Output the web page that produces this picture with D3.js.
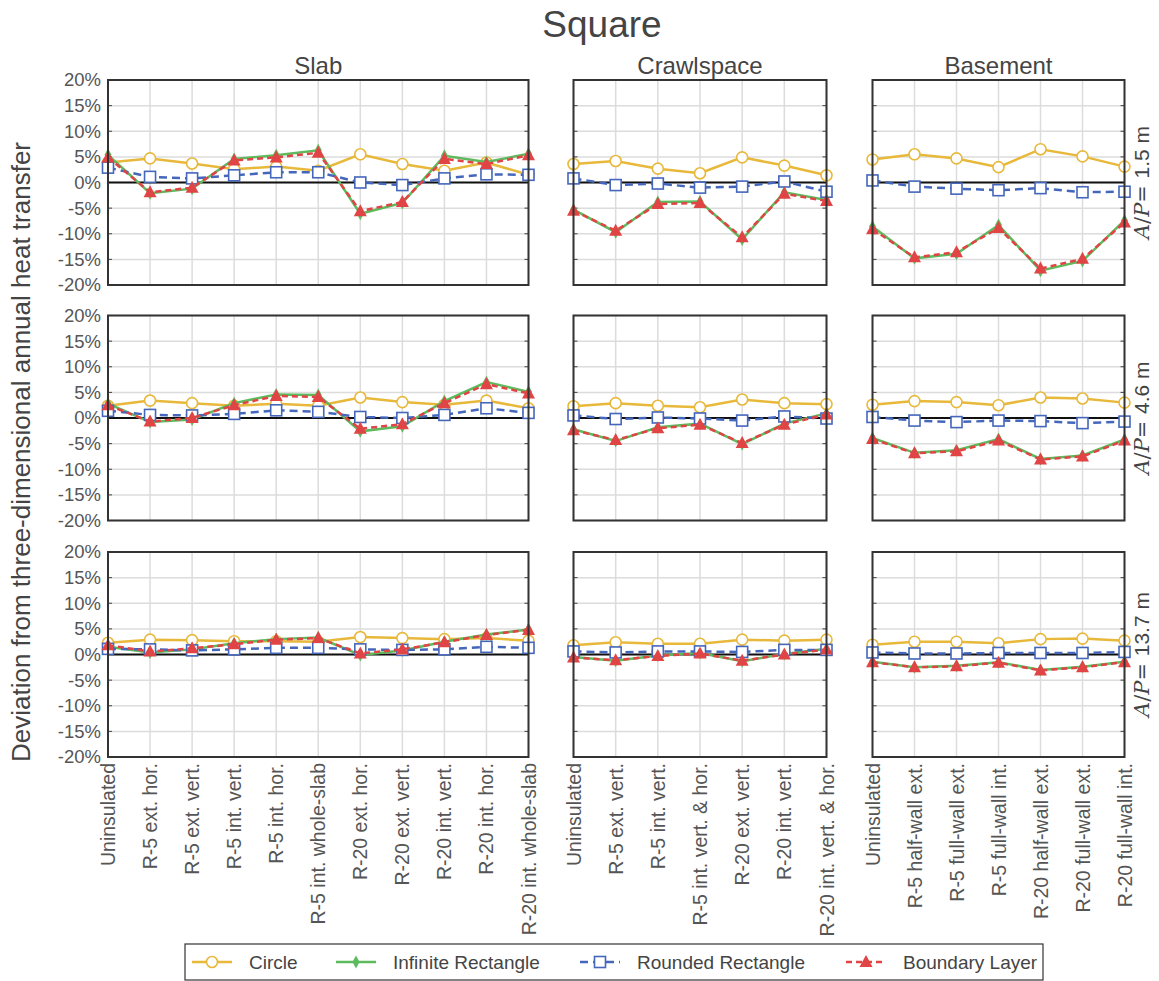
<!DOCTYPE html>
<html><head><meta charset="utf-8">
<script src="https://cdn.jsdelivr.net/npm/d3@7"></script>
<style>body{margin:0;background:#fff;} text{font-family:"Liberation Sans",Arial,sans-serif;}</style>
</head><body><svg id="c" width="1159" height="981"></svg>
<script>
const slabCats = ["Uninsulated","R-5 ext. hor.","R-5 ext. vert.","R-5 int. vert.","R-5 int. hor.","R-5 int. whole-slab","R-20 ext. hor.","R-20 ext. vert.","R-20 int. vert.","R-20 int. hor.","R-20 int. whole-slab"];
const crawlCats = ["Uninsulated","R-5 ext. vert.","R-5 int. vert.","R-5 int. vert. & hor.","R-20 ext. vert.","R-20 int. vert.","R-20 int. vert. & hor."];
const baseCats = ["Uninsulated","R-5 half-wall ext.","R-5 full-wall ext.","R-5 full-wall int.","R-20 half-wall ext.","R-20 full-wall ext.","R-20 full-wall int."];
const foundations = ["Slab","Crawlspace","Basement"];
const apLabels = ["1.5 m","4.6 m","13.7 m"];
const seriesNames = ["Circle","Infinite Rectangle","Rounded Rectangle","Boundary Layer"];
const yTicks = [-20,-15,-10,-5,0,5,10,15,20];

// Slab, rows = A/P 1.5, 4.6, 13.7
const slabCircle = [
  [3.9,4.7,3.7,2.6,3.1,2.3,5.5,3.6,2.3,3.9,1.5],
  [2.4,3.4,2.9,2.4,2.8,2.4,4.0,3.1,2.6,3.4,1.9],
  [2.3,2.9,2.8,2.6,2.6,2.5,3.4,3.2,3.0,3.2,2.7]];
const slabInfinite = [
  [5.4,-2.1,-1.2,4.6,5.3,6.3,-6.1,-4.0,5.2,4.0,5.6],
  [2.8,-0.8,-0.3,2.9,4.6,4.5,-2.6,-1.6,3.3,7.0,5.1],
  [1.5,0.4,1.0,2.2,3.0,3.3,-0.1,0.8,2.5,3.9,4.9]];
const slabRounded = [
  [2.9,1.1,0.8,1.4,2.0,2.0,0.0,-0.5,0.8,1.6,1.5],
  [1.4,0.6,0.5,0.8,1.5,1.2,0.2,0.0,0.6,1.9,1.0],
  [1.1,1.0,0.8,1.0,1.3,1.3,1.0,0.9,1.0,1.5,1.3]];
const slabBoundary = [
  [4.9,-1.9,-1.0,4.3,4.9,5.8,-5.6,-3.8,4.6,3.6,5.3],
  [2.5,-0.7,0.0,2.5,4.3,4.1,-2.1,-1.2,2.9,6.6,4.8],
  [1.8,0.6,1.2,2.0,2.9,3.2,0.2,1.0,2.4,3.8,4.8]];

const crawlCircle = [
  [3.6,4.2,2.7,1.8,4.9,3.3,1.4],
  [2.3,2.9,2.4,2.1,3.6,2.9,2.7],
  [1.8,2.4,2.1,2.1,2.9,2.7,2.9]];
const crawlInfinite = [
  [-5.3,-9.7,-3.8,-3.7,-11.1,-1.9,-3.4],
  [-2.2,-4.5,-1.8,-1.1,-5.1,-1.1,0.9],
  [-0.5,-1.2,-0.2,0.3,-1.3,0.1,1.1]];
const crawlRounded = [
  [0.8,-0.5,-0.2,-1.0,-0.8,0.2,-1.8],
  [0.5,-0.2,0.1,-0.1,-0.5,0.3,-0.1],
  [0.6,0.4,0.6,0.6,0.5,0.9,0.9]];
const crawlBoundary = [
  [-5.5,-9.4,-4.2,-4.0,-10.7,-2.2,-3.6],
  [-2.4,-4.3,-2.0,-1.3,-4.9,-1.3,0.7],
  [-0.6,-1.1,-0.3,0.2,-1.2,0.0,1.0]];

const baseCircle = [
  [4.5,5.5,4.7,3.0,6.5,5.1,3.1],
  [2.6,3.3,3.1,2.5,4.0,3.8,3.0],
  [1.9,2.5,2.5,2.2,3.0,3.1,2.7]];
const baseInfinite = [
  [-8.6,-14.8,-13.9,-8.3,-17.2,-15.3,-7.4],
  [-3.9,-6.8,-6.3,-4.1,-8.0,-7.3,-4.2],
  [-1.4,-2.5,-2.2,-1.5,-3.0,-2.4,-1.4]];
const baseRounded = [
  [0.4,-0.8,-1.2,-1.5,-1.1,-1.9,-1.8],
  [0.2,-0.5,-0.8,-0.5,-0.6,-1.0,-0.7],
  [0.4,0.2,0.2,0.3,0.3,0.3,0.5]];
const baseBoundary = [
  [-9.1,-14.6,-13.6,-8.9,-16.8,-14.9,-7.8],
  [-4.1,-6.9,-6.5,-4.4,-8.1,-7.5,-4.4],
  [-1.5,-2.5,-2.3,-1.6,-3.1,-2.5,-1.5]];

const panels = [
  {name:"Slab", cats:slabCats, data:[slabCircle,slabInfinite,slabRounded,slabBoundary], x0:108, x1:528.5},
  {name:"Crawlspace", cats:crawlCats, data:[crawlCircle,crawlInfinite,crawlRounded,crawlBoundary], x0:573.5, x1:826.5},
  {name:"Basement", cats:baseCats, data:[baseCircle,baseInfinite,baseRounded,baseBoundary], x0:872.5, x1:1124.5}];
const rowTops = [80, 315.5, 552];
const rowH = 205;

const colors = ["#E8B83A","#5DBB5D","#4466BB","#E04444"];
const styles = [
  {color:colors[0], dash:null, width:2.5, marker:"circle"},
  {color:colors[1], dash:null, width:2.5, marker:"diamond"},
  {color:colors[2], dash:"8,5", width:2.5, marker:"square"},
  {color:colors[3], dash:"6,4", width:2.5, marker:"triangle"}];

const svg = d3.select("#c");
const txt = "#444";

svg.append("text").attr("x",602).attr("y",37).attr("text-anchor","middle")
  .attr("font-size",37).attr("fill",txt).text("Square");

svg.append("text").attr("transform","translate(30,452) rotate(-90)")
  .attr("text-anchor","middle").attr("font-size",26).attr("fill",txt)
  .text("Deviation from three-dimensional annual heat transfer");

function marker(g, type, x, y, st){
  if(type==="circle"){
    g.append("circle").attr("cx",x).attr("cy",y).attr("r",5.5).attr("fill","#fff").attr("stroke",st.color).attr("stroke-width",1.6);
  } else if(type==="square"){
    g.append("rect").attr("x",x-5.5).attr("y",y-5.5).attr("width",11).attr("height",11).attr("fill","#fff").attr("stroke",st.color).attr("stroke-width",1.6);
  } else if(type==="diamond"){
    g.append("path").attr("d",`M${x},${y-6.5}L${x+3.5},${y}L${x},${y+6.5}L${x-3.5},${y}Z`).attr("fill",st.color);
  } else if(type==="triangle"){
    g.append("path").attr("d",`M${x},${y-7}L${x+6.5},${y+5}L${x-6.5},${y+5}Z`).attr("fill",st.color);
  }
}

panels.forEach((p,pi)=>{
  const x = d3.scalePoint().domain(p.cats).range([p.x0,p.x1]).padding(0);
  svg.append("text").attr("x",(p.x0+p.x1)/2).attr("y",74).attr("text-anchor","middle")
    .attr("font-size",24).attr("fill",txt).text(p.name);
  rowTops.forEach((top,ri)=>{
    const y = d3.scaleLinear().domain([-20,20]).range([top+rowH, top]);
    const g = svg.append("g");
    g.selectAll(".gy").data(yTicks).enter().append("line")
      .attr("x1",p.x0).attr("x2",p.x1).attr("y1",d=>y(d)).attr("y2",d=>y(d))
      .attr("stroke","#dcdcdc").attr("stroke-width",1.5);
    g.selectAll(".gx").data(p.cats).enter().append("line")
      .attr("x1",d=>x(d)).attr("x2",d=>x(d)).attr("y1",top).attr("y2",top+rowH)
      .attr("stroke","#dcdcdc").attr("stroke-width",1.5);
    yTicks.forEach(t=>{
      g.append("line").attr("x1",p.x0).attr("x2",p.x0+4).attr("y1",y(t)).attr("y2",y(t)).attr("stroke","#444").attr("stroke-width",1);
      g.append("line").attr("x1",p.x1-4).attr("x2",p.x1).attr("y1",y(t)).attr("y2",y(t)).attr("stroke","#444").attr("stroke-width",1);
    });
    g.append("line").attr("x1",p.x0).attr("x2",p.x1).attr("y1",y(0)).attr("y2",y(0)).attr("stroke","#111").attr("stroke-width",2);
    if(pi===0){
      const ax = d3.axisLeft(y).tickValues(yTicks).tickSize(0).tickPadding(7).tickFormat(d=>d+"%");
      const a = svg.append("g").attr("transform",`translate(${p.x0},0)`).call(ax);
      a.select(".domain").remove();
      a.selectAll("text").attr("font-size",18.5).attr("fill","#555").attr("font-family","Liberation Sans, Arial, sans-serif");
    }
    const clip = "clip"+pi+"_"+ri;
    svg.append("clipPath").attr("id",clip).append("rect").attr("x",p.x0-8).attr("y",top).attr("width",p.x1-p.x0+16).attr("height",rowH);
    const sg = svg.append("g").attr("clip-path",`url(#${clip})`);
    p.data.forEach((series,si)=>{
      const st = styles[si];
      const vals = series[ri];
      const line = d3.line().x((d,i)=>x(p.cats[i])).y(d=>y(d));
      sg.append("path").attr("d",line(vals)).attr("fill","none").attr("stroke",st.color)
        .attr("stroke-width",st.width).attr("stroke-dasharray",st.dash);
      vals.forEach((v,i)=>marker(sg,st.marker,x(p.cats[i]),y(v),st));
    });
    svg.append("rect").attr("x",p.x0).attr("y",top).attr("width",p.x1-p.x0).attr("height",rowH)
      .attr("fill","none").attr("stroke","#333").attr("stroke-width",2);
    if(pi===2){
      const t = svg.append("text").attr("transform",`translate(1149,${top+rowH/2}) rotate(-90)`)
        .attr("text-anchor","middle").attr("font-size",21).attr("fill",txt);
      t.append("tspan").attr("font-family","DejaVu Serif, serif").attr("font-style","italic").text("A");
      t.append("tspan").attr("font-family","DejaVu Serif, serif").text("/");
      t.append("tspan").attr("font-family","DejaVu Serif, serif").attr("font-style","italic").text("P");
      t.append("tspan").attr("font-family","DejaVu Serif, serif").text("= ");
      t.append("tspan").text(apLabels[ri]);
    }
  });
  const bottom = rowTops[2]+rowH;
  svg.append("g").selectAll("text").data(p.cats).enter().append("text")
    .attr("transform",d=>`translate(${x(d)+7},${bottom+6}) rotate(-90)`)
    .attr("text-anchor","end").attr("font-size",19.5).attr("fill","#555").text(d=>d);
});

const lg = svg.append("g");
lg.append("rect").attr("x",185).attr("y",944).attr("width",858).attr("height",36)
  .attr("fill","#fff").attr("stroke","#333").attr("stroke-width",1.2);
const legX = [192, 336, 580, 846];
seriesNames.forEach((n,i)=>{
  const st = styles[i];
  const lx = legX[i], ly = 962;
  lg.append("line").attr("x1",lx).attr("x2",lx+40).attr("y1",ly).attr("y2",ly)
    .attr("stroke",st.color).attr("stroke-width",2.5).attr("stroke-dasharray",st.dash);
  marker(lg, st.marker, lx+20, ly, st);
  lg.append("text").attr("x",lx+57).attr("y",ly+7).attr("font-size",19).attr("fill",txt).text(n);
});
</script></body></html>
